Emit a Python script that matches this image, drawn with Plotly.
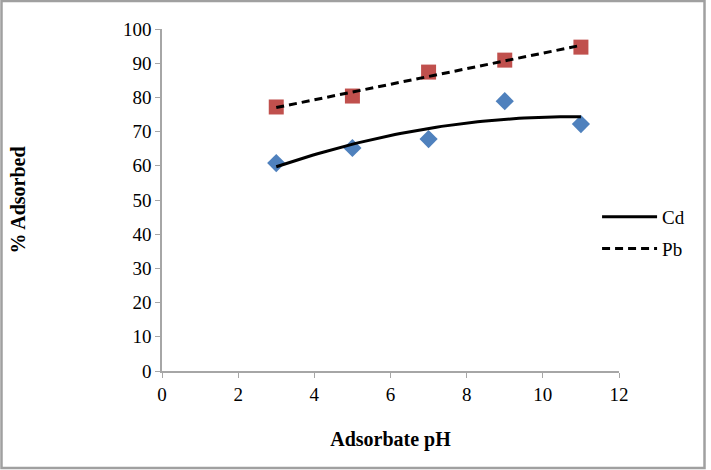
import numpy as np
import plotly.graph_objects as go

ph = [3, 5, 7, 9, 11]
cd = [60.8, 65.2, 67.8, 78.9, 72.2]
pb = [77.2, 80.4, 87.4, 90.9, 94.7]

x_ticks = [0, 2, 4, 6, 8, 10, 12]
y_ticks = [0, 10, 20, 30, 40, 50, 60, 70, 80, 90, 100]

# trendlines: polynomial (order 2) for Cd, linear for Pb
xs = np.linspace(min(ph), max(ph), 60)
cd_fit = np.polyval(np.polyfit(ph, cd, 2), xs)
pb_fit = np.polyval(np.polyfit(ph, pb, 1), xs)

font_fam = "Liberation Serif"

fig = go.Figure()
fig.add_trace(go.Scatter(x=ph, y=cd, mode="markers", showlegend=False,
                         marker=dict(symbol="diamond", size=14, color="#4F81BD")))
fig.add_trace(go.Scatter(x=ph, y=pb, mode="markers", showlegend=False,
                         marker=dict(symbol="square", size=15, color="#C0504D")))
fig.add_trace(go.Scatter(x=xs, y=cd_fit, mode="lines", name="Cd", legendgroup="cd",
                         line=dict(color="black", width=3)))
fig.add_trace(go.Scatter(x=xs, y=pb_fit, mode="lines", name="Pb", legendgroup="pb",
                         line=dict(color="black", width=3, dash="8px,5px")))

fig.update_layout(
    width=711, height=470,
    margin=dict(l=162, r=92, t=29, b=99),
    paper_bgcolor="white", plot_bgcolor="white",
    font=dict(family=font_fam, size=19, color="black"),
    legend=dict(x=0.952, y=0.506, xanchor="left", yanchor="top",
                font=dict(family=font_fam, size=19), tracegroupgap=4,
                itemwidth=55, bgcolor="rgba(0,0,0,0)"),
    shapes=[dict(type="rect", xref="paper", yref="paper",
                 x0=-0.3512, x1=1.1871, y0=-0.2836, y1=1.0819,
                 line=dict(color="#A0A0A0", width=2.5))],
)

fig.update_xaxes(range=[0, 12], tickmode="array", tickvals=x_ticks,
                 title_text="<b>Adsorbate pH</b>", title_font_family=font_fam,
                 title_font_size=20, title_standoff=28)
fig.update_yaxes(range=[0, 100], tickmode="array", tickvals=y_ticks,
                 title_text="<b>% Adsorbed</b>", title_font_family=font_fam,
                 title_font_size=20, title_standoff=92)
fig.update_xaxes(showgrid=False, zeroline=False, showline=True, linecolor="#A6A6A6",
                 linewidth=1.5, ticks="outside", tickcolor="#A6A6A6", ticklen=5,
                 tickfont_family=font_fam, tickfont_size=19, tickfont_color="black")
fig.update_yaxes(showgrid=False, zeroline=False, showline=True, linecolor="#A6A6A6",
                 linewidth=1.5, ticks="outside", tickcolor="#A6A6A6", ticklen=5,
                 tickfont_family=font_fam, tickfont_size=19, tickfont_color="black")

fig.write_html("out.html")
